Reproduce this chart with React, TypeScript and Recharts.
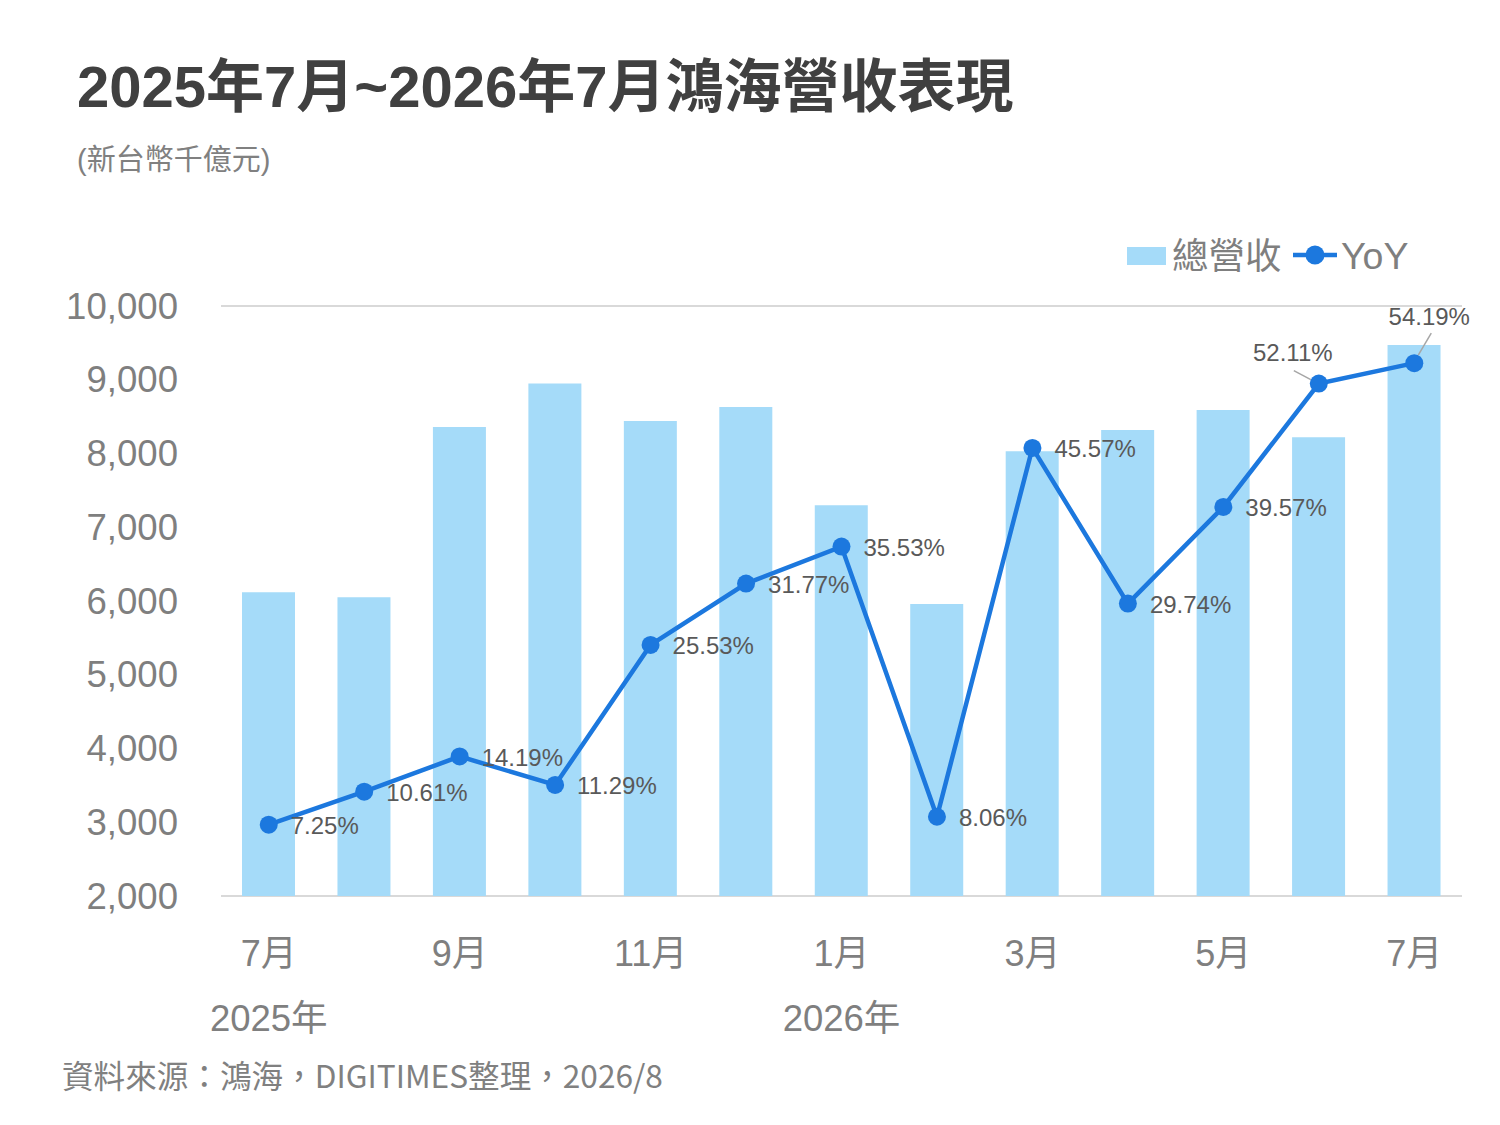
import React from 'react';
import {
  ComposedChart,
  Bar,
  Line,
  XAxis,
  YAxis,
  CartesianGrid,
  Legend,
  LabelList,
} from 'recharts';

// ---- data ----
const months = ['2025-07', '2025-08', '2025-09', '2025-10', '2025-11', '2025-12', '2026-01', '2026-02', '2026-03', '2026-04', '2026-05', '2026-06', '2026-07'];
const monthLabels = ['7月', '8月', '9月', '10月', '11月', '12月', '1月', '2月', '3月', '4月', '5月', '6月', '7月'];
const yearLabels: Record<number, string> = { 0: '2025年', 6: '2026年' };
const revenue = [6120, 6050, 8360, 8950, 8440, 8630, 7300, 5960, 8030, 8320, 8590, 8220, 9470];
const yoy = [7.25, 10.61, 14.19, 11.29, 25.53, 31.77, 35.53, 8.06, 45.57, 29.74, 39.57, 52.11, 54.19];
const revenueTicks = [2000, 3000, 4000, 5000, 6000, 7000, 8000, 9000, 10000];

const TITLE = '2025年7月~2026年7月鴻海營收表現';
const SUBTITLE = '(新台幣千億元)';
const SOURCE = '資料來源：鴻海，DIGITIMES整理，2026/8';
const SERIES_BAR = '總營收';
const SERIES_LINE = 'YoY';

const data = months.map((m, i) => ({
  month: m,
  label: monthLabels[i],
  revenue: revenue[i],
  yoy: yoy[i],
}));

// ---- styles ----
const FONT = "'Liberation Sans', Arial, 'Noto Sans CJK TC', sans-serif";
const CJK_FONT = "'Noto Sans CJK TC', 'Liberation Sans', sans-serif";
const BAR_COLOR = '#A5DBF9';
const LINE_COLOR = '#1C78DE';
const AXIS_TEXT = '#7F7F7F';
const LABEL_TEXT = '#595959';
const GRID = '#D9D9D9';

const XTick = (props: any) => {
  const { x, y, payload, index } = props;
  const i = typeof index === 'number' ? index : months.indexOf(payload.value);
  const year = yearLabels[i];
  return (
    <g>
      {i % 2 === 0 && (
        <text x={x} y={y + 62} textAnchor="middle" fontSize={36} fill={AXIS_TEXT} fontFamily={FONT}>
          {monthLabels[i]}
        </text>
      )}
      {year && (
        <text x={x} y={y + 127} textAnchor="middle" fontSize={36.5} fill={AXIS_TEXT} fontFamily={FONT}>
          {year}
        </text>
      )}
    </g>
  );
};

const YTick = (props: any) => {
  const { x, y, payload } = props;
  return (
    <text x={x} y={y} textAnchor="end" dominantBaseline="central" fontSize={36.6} fill={AXIS_TEXT} fontFamily={FONT}>
      {Number(payload.value).toLocaleString('en-US')}
    </text>
  );
};

const YoyLabel = (props: any) => {
  const { x, y, value, index } = props;
  const text = `${Number(value).toFixed(2)}%`;
  const common = { fontSize: 24, fill: LABEL_TEXT, fontFamily: FONT };
  if (index === 11) {
    return (
      <g>
        <line x1={x - 25} y1={y - 13} x2={x - 8} y2={y - 4} stroke="#A6A6A6" strokeWidth={1.5} />
        <text x={x - 26} y={y - 31} textAnchor="middle" dominantBaseline="central" {...common}>
          {text}
        </text>
      </g>
    );
  }
  if (index === 12) {
    return (
      <g>
        <line x1={x + 17} y1={y - 30} x2={x + 4} y2={y - 8} stroke="#A6A6A6" strokeWidth={1.5} />
        <text x={x + 15} y={y - 47} textAnchor="middle" dominantBaseline="central" {...common}>
          {text}
        </text>
      </g>
    );
  }
  return (
    <text x={x + 22} y={y + 1} textAnchor="start" dominantBaseline="central" {...common}>
      {text}
    </text>
  );
};

const LegendContent = () => (
  <svg width={320} height={50}>
    <rect x={7} y={17} width={39} height={18} fill={BAR_COLOR} />
    <text x={52} y={39} fontSize={36.5} fill={AXIS_TEXT} fontFamily={FONT}>
      {SERIES_BAR}
    </text>
    <line x1={173} y1={25} x2={217} y2={25} stroke={LINE_COLOR} strokeWidth={4.5} />
    <circle cx={195} cy={25} r={9.5} fill={LINE_COLOR} />
    <text x={221} y={39} fontSize={37.5} fill={AXIS_TEXT} fontFamily={FONT}>
      {SERIES_LINE}
    </text>
  </svg>
);

export default function App() {
  return (
    <div style={{ position: 'absolute', left: 0, top: 0, width: 1500, height: 1125, background: '#fff' }}>
      <svg width={1500} height={1125} style={{ position: 'absolute', left: 0, top: 0 }}>
        <text x={77} y={107} fontSize={58} fontWeight={700} fill="#404040" fontFamily={FONT}>
          {TITLE}
        </text>
        <text x={77} y={170} fontSize={29} fill="#808080" fontFamily={FONT}>
          {SUBTITLE}
        </text>
        <text x={62} y={1088} fontSize={31.6} fill="#808080" fontFamily={CJK_FONT}>
          {SOURCE}
        </text>
      </svg>
      <div style={{ position: 'absolute', left: 0, top: 0 }}>
        <ComposedChart
          width={1500}
          height={1125}
          data={data}
          margin={{ top: 256, right: 38, bottom: 99, left: 0 }}
        >
          <CartesianGrid vertical={false} stroke={GRID} strokeWidth={2} />
          <XAxis
            dataKey="month"
            interval={0}
            axisLine={false}
            tickLine={false}
            height={130}
            tick={<XTick />}
          />
          <YAxis
            yAxisId="left"
            domain={[2000, 10000]}
            ticks={revenueTicks}
            axisLine={false}
            tickLine={false}
            width={221}
            tickMargin={37}
            tick={<YTick />}
          />
          <YAxis yAxisId="right" orientation="right" domain={[0, 60]} hide />
          <Legend
            verticalAlign="top"
            height={50}
            wrapperStyle={{ position: 'absolute', left: 1120, top: 230, width: 320, height: 50 }}
            content={<LegendContent />}
          />
          <Bar
            yAxisId="left"
            dataKey="revenue"
            name={SERIES_BAR}
            fill={BAR_COLOR}
            barSize={53}
            isAnimationActive={false}
          />
          <Line
            yAxisId="right"
            dataKey="yoy"
            name={SERIES_LINE}
            stroke={LINE_COLOR}
            strokeWidth={4.5}
            dot={{ r: 9, fill: LINE_COLOR, stroke: LINE_COLOR, strokeWidth: 0 }}
            activeDot={false}
            isAnimationActive={false}
          >
            <LabelList dataKey="yoy" content={<YoyLabel />} />
          </Line>
        </ComposedChart>
      </div>
    </div>
  );
}
